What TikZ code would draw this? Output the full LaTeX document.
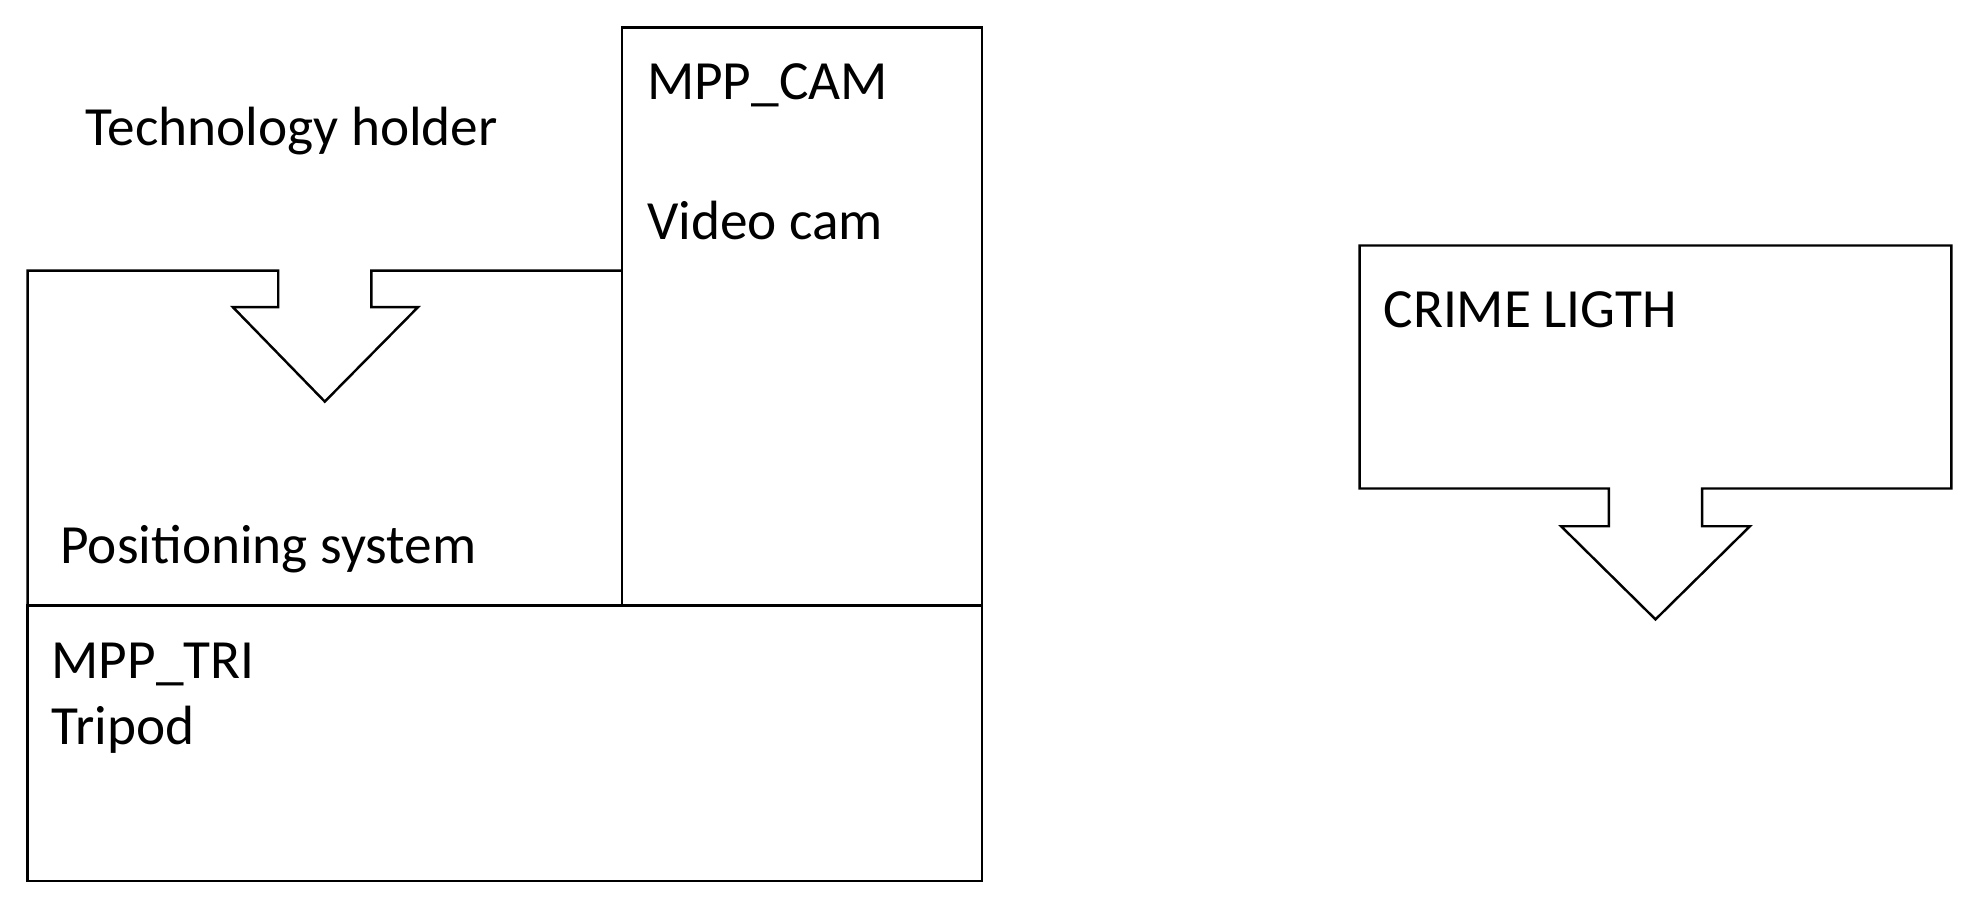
\documentclass[tikz,border=0pt]{standalone}
\usepackage{fontspec}
\setmainfont{Carlito}
\begin{document}
\begin{tikzpicture}[x=0.02cm,y=-0.02cm,line width=1.1pt,
  lbl/.style={anchor=west,inner sep=0pt,font=\fontsize{25}{30}\selectfont}]
\useasboundingbox (0,0) rectangle (1568,720);
% camera box
\draw (494,481) -- (494,22) -- (780,22) -- (780,481);
% positioning system with notch arrow
\draw (494,215) -- (295,215) -- (295,244) -- (332,244) -- (258,319) -- (185,244) -- (221,244) -- (221,215) -- (22,215) -- (22,481);
% tripod
\draw (22,481) rectangle (780,700);
% crime light
\draw (1278,388) -- (1080,388) -- (1080,195) -- (1550,195) -- (1550,388) -- (1352,388) -- (1352,418) -- (1390,418) -- (1315,492) -- (1240,418) -- (1278,418) -- cycle;
\node[lbl] (th) at (67,104) {Technology holder};
\node[lbl] (cam) at (513,68) {MPP\_CAM};
\node[lbl] (vc) at (513,175) {Video cam};
\node[lbl] (ps) at (47,436) {Positioning system};
\node[lbl] (tri) at (40,528) {MPP\_TRI};
\node[lbl] (tp) at (40,580) {Tripod};
\node[lbl] (cl) at (1098,246) {CRIME LIGTH};
\end{tikzpicture}
\end{document}
